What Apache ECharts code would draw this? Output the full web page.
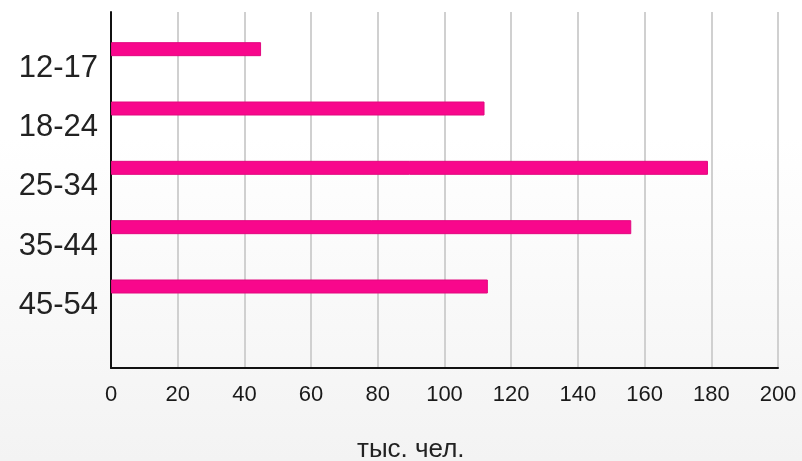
<!DOCTYPE html>
<html>
<head>
<meta charset="utf-8">
<script src="https://cdn.jsdelivr.net/npm/echarts@6/dist/echarts.min.js"></script>
<style>
html,body{margin:0;padding:0;background:#fff;}
#c{width:802px;height:461px;}
</style>
</head>
<body>
<div id="c"></div>
<script>
const categories = ['12-17', '18-24', '25-34', '35-44', '45-54', ''];
const values = [45, 112, 179, 156, 113, null];
const axisName = 'тыс. чел.';
const FONT = '"Liberation Sans", Arial, sans-serif';

const chart = echarts.init(document.getElementById('c'), null, {renderer: 'canvas'});
chart.setOption({
  animation: false,
  backgroundColor: {
    type: 'linear', x: 0, y: 0, x2: 0, y2: 1,
    colorStops: [{offset: 0, color: '#ffffff'}, {offset: 0.3, color: '#ffffff'}, {offset: 1, color: '#f3f3f3'}]
  },
  title: {
    text: axisName,
    left: 352, top: 432,
    textStyle: {fontFamily: FONT, fontSize: 26, fontWeight: 'normal', color: '#222'}
  },
  grid: {left: 111, right: 24, top: 12, bottom: 93, containLabel: false},
  xAxis: {
    type: 'value', min: 0, max: 200, interval: 20,
    axisLine: {show: true, lineStyle: {color: '#111', width: 2}},
    axisTick: {show: false},
    axisLabel: {margin: 16, fontFamily: FONT, fontSize: 22, color: '#1a1a1a'},
    splitLine: {show: true, lineStyle: {color: '#d0d0d0', width: 2}}
  },
  yAxis: {
    type: 'category', inverse: true, data: categories,
    axisLine: {show: true, lineStyle: {color: '#111', width: 2}},
    axisTick: {show: false},
    splitLine: {show: false},
    axisLabel: {margin: 13, fontFamily: FONT, fontSize: 31, color: '#222',
      verticalAlign: 'top', padding: [11, 0, 0, 0]}
  },
  series: [
    {type: 'bar', data: categories.map(() => null), barWidth: 15, barGap: 0, silent: true},
    {type: 'bar', data: values, barWidth: 14, barGap: 0,
      itemStyle: {color: '#f8078c', borderColor: '#e2087f', borderWidth: 1}}
  ]
});
</script>
</body>
</html>
